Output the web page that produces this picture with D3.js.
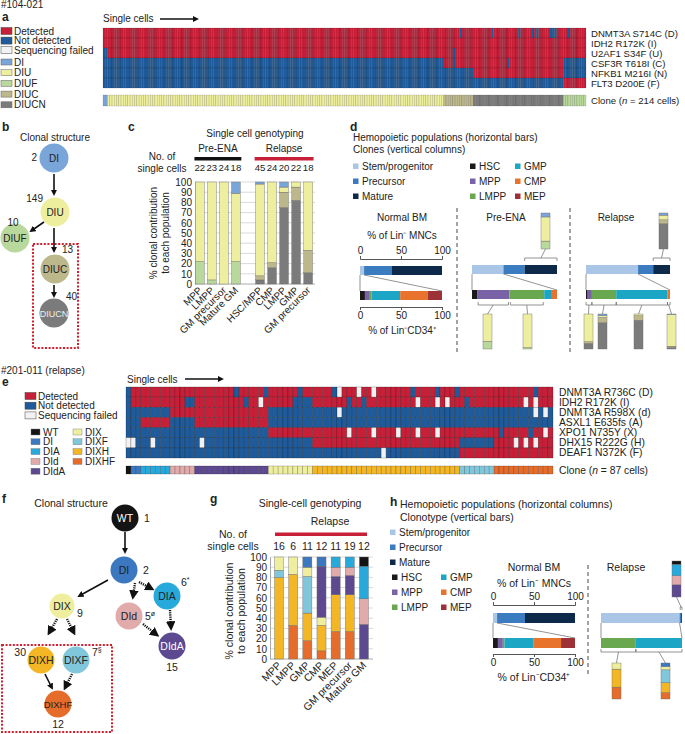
<!DOCTYPE html>
<html>
<head>
<meta charset="utf-8">
<script src="https://cdnjs.cloudflare.com/ajax/libs/d3/7.8.5/d3.min.js"></script>
<style>
  body { margin: 0; background: #fff; }
  text { font-family: 'Liberation Sans', Arial, Helvetica, sans-serif; font-size: 10px; fill: #222; }
</style>
</head>
<body>
<div id="chart"></div>
<script>
(function() {

  // ---------- panel a : patient #104-021 ----------
  var aGenes = ['DNMT3A S714C (D)', 'IDH2 R172K (I)', 'U2AF1 S34F (U)', 'CSF3R T618I (C)', 'NFKB1 M216I (N)', 'FLT3 D200E (F)'];
  var aLetters = ['D', 'I', 'U', 'C', 'N', 'F'];
  var aOrder = ['DI', 'DIU', 'DIUC', 'DIUCN', 'DIUF'];
  var aOrderCells = [2, 149, 13, 40, 10];
  // [cell, gene] not detected although the clone carries the mutation
  var aMissed = [[158, 0], [172, 0], [184, 0], [190, 0], [192, 0], [198, 0], [199, 0], [200, 0], [206, 0], [155, 2], [155, 3], [179, 3]];

  // ---------- panel b ----------
  var bClones = ['DI', 'DIU', 'DIUF', 'DIUC', 'DIUCN'];
  var bCells = [2, 149, 10, 13, 40];

  // ---------- panel c ----------
  var cLabels = ['MPP', 'LMPP', 'GM precursor', 'Mature GM', 'HSC/MPP', 'CMP', 'LMPP', 'GMP', 'GM precursor'];
  var cCells = [22, 23, 24, 18, 45, 24, 20, 22, 18];
  var cStackClones = ['DIUCN', 'DIUC', 'DIUF', 'DIU', 'DI'];
  var cDIUCN = [0, 0, 0, 0, 4, 16, 75, 82, 11];
  var cDIUC = [0, 0, 0, 0, 4, 5, 15, 13, 22];
  var cDIUF = [22, 4, 0, 22, 0, 0, 0, 0, 0];
  var cDIU = [78, 96, 100, 67, 90, 79, 5, 5, 67];
  var cDI = [0, 0, 0, 11, 2, 0, 5, 0, 0];

  // ---------- panels d and h : hemopoietic populations ----------
  var hemoCats = ['Stem/progenitor', 'Precursor', 'Mature'];
  var cd34Cats = ['HSC', 'MPP', 'LMPP', 'GMP', 'CMP', 'MEP'];
  var normalTop = [5, 34, 61];
  var normalBottom = [6, 6, 2, 35, 34, 17];
  var preTop = [37, 25, 38];
  var preBottom = [6, 38, 41, 9, 6, 0];
  var relTop = [62, 18, 20];
  var relBottom = [2, 5, 29, 61, 3, 0];
  var relMatureCol = [70, 11, 0, 13, 6];  // DIUCN, DIUC, DIUF, DIU, DI
  var hRelTop = [97, 2, 1];
  var hRelBottom = [0, 0, 43, 57, 0, 0];

  // ---------- panel e : patient #201-011 ----------
  var eGenes = ['DNMT3A R736C (D)', 'IDH2 R172K (I)', 'DNMT3A R598X (d)', 'ASXL1 E635fs (A)', 'XPO1 N735Y (X)', 'DHX15 R222G (H)', 'DEAF1 N372K (F)'];
  var eLetters = ['D', 'I', 'd', 'A', 'X', 'H', 'F'];
  var eOrder = ['WT', 'DI', 'DIA', 'DId', 'DIdA', 'DIX', 'DIXH', 'DIXF', 'DIXHF'];
  var eOrderCells = [1, 2, 6, 5, 15, 9, 30, 7, 12];
  var eMissed = [[22, 0], [28, 0], [35, 0], [42, 0], [58, 0], [63, 0], [67, 0], [83, 0],
                 [12, 1], [13, 1], [24, 1], [34, 1], [35, 1], [36, 1], [37, 1], [45, 1], [48, 1], [69, 1],
                 [76, 4], [82, 4]];
  var eFailed = [[0, 5], [1, 5], [5, 5], [15, 5], [27, 1], [43, 0], [47, 0], [50, 0],
                 [59, 1], [63, 1], [65, 1], [81, 1], [83, 1], [43, 2], [83, 2], [85, 2],
                 [45, 4], [50, 4], [55, 4], [59, 4], [63, 4], [85, 4], [79, 5], [81, 5], [83, 5], [52, 6]];
  var eLegendLeft = ['WT', 'DI', 'DIA', 'DId', 'DIdA'];
  var eLegendRight = ['DIX', 'DIXF', 'DIXH', 'DIXHF'];

  // ---------- panel g ----------
  var gLabels = ['MPP', 'LMPP', 'GMP', 'CMP', 'MEP', 'GM precursor', 'Mature GM'];
  var gCells = [16, 6, 11, 12, 11, 19, 12];
  var gStackClones = ['DIXHF', 'DIXH', 'DIXF', 'DIX', 'DIdA', 'DId', 'DIA', 'DI', 'WT'];
  var gDIXHF = [0, 33, 18, 8, 27, 27, 0];
  var gDIXH = [80, 50, 27, 25, 36, 36, 0];
  var gDIXF = [7, 0, 36, 0, 0, 0, 0];
  var gDIX = [13, 17, 9, 8, 0, 0, 0];
  var gDIdA = [0, 0, 0, 50, 18, 19, 34];
  var gDId = [0, 0, 0, 0, 9, 8, 25];
  var gDIA = [0, 0, 0, 0, 10, 10, 32];
  var gDI = [0, 0, 10, 9, 0, 0, 0];
  var gWT = [0, 0, 0, 0, 0, 0, 9];

  // ---------- colours ----------
  var detCol = { yes: '#c81f39', no: '#1f5b9b', fail: '#f2f2f2' };
  var aCol = { DI: '#79a5d8', DIU: '#eeee9f', DIUF: '#b8d89c', DIUC: '#bdb78c', DIUCN: '#7b7b7b' };
  var eCol = { WT: '#141414', DI: '#3b78bf', DIA: '#27a9dc', DId: '#e2abab', DIdA: '#5c4990',
               DIX: '#eeee9e', DIXF: '#80c7db', DIXH: '#f3b624', DIXHF: '#e56c2a' };
  var hemoCol = ['#a9c6e6', '#3b7cc0', '#0e2a4b'];
  var cd34Col = ['#1a1a1a', '#7a62a6', '#6aa84f', '#1aa6c4', '#e8732c', '#9e3038'];

  init();

  function init() {
    var svg = d3.select('#chart').append('svg').attr('width', 685).attr('height', 734);
    svg.append('rect').attr('width', 685).attr('height', 734).attr('fill', '#fff');

    var defs = svg.append('defs');
    defs.append('marker').attr('id', 'arr').attr('viewBox', '0 0 10 10')
      .attr('refX', 7).attr('refY', 5).attr('markerWidth', 4).attr('markerHeight', 4)
      .attr('orient', 'auto')
      .append('path').attr('d', 'M0,0L10,5L0,10z').attr('fill', '#111');

    panelA(svg);
    panelB(svg);
    var cInfo = panelC(svg);
    panelD(svg, cInfo);
    panelE(svg);
    panelF(svg);
    var gInfo = panelG(svg);
    panelH(svg, gInfo);
  }

  // ---------- helpers ----------
  function label(g, x, y, s, o) {
    o = o || {};
    var t = g.append('text').attr('x', x).attr('y', y).text(s);
    if (o.anchor) t.attr('text-anchor', o.anchor);
    if (o.size) t.style('font-size', o.size + 'px');
    if (o.weight) t.style('font-weight', o.weight);
    if (o.fill) t.style('fill', o.fill);
    return t;
  }

  function arrowLine(g, x1, y1, x2, y2, dashed) {
    g.append('line').attr('x1', x1).attr('y1', y1).attr('x2', x2).attr('y2', y2)
      .attr('stroke', '#111').attr('stroke-width', dashed ? 2.4 : 1.6)
      .attr('stroke-dasharray', dashed ? '1.2,1' : null)
      .attr('marker-end', 'url(#arr)');
  }

  function node(g, x, y, r, name, fill, tcol, size) {
    g.append('circle').attr('cx', x).attr('cy', y).attr('r', r).attr('fill', fill);
    label(g, x, y + 3.5, name, { anchor: 'middle', size: size || 10, fill: tcol || '#222' });
  }

  function dotBox(g, x0, y0, x1, y1) {
    g.append('rect').attr('x', x0).attr('y', y0).attr('width', x1 - x0).attr('height', y1 - y0)
      .attr('fill', 'none').attr('stroke', '#d3202f').attr('stroke-width', 2).attr('stroke-dasharray', '2,1.6');
  }

  function heatmap(g, genes, letters, order, counts, colors, missed, failed, x0, x1, y0, y1, cb0, cb1, sw) {
    var n = d3.sum(counts);
    var x = d3.scaleLinear().domain([0, n]).range([x0, x1]);
    var y = d3.scaleBand().domain(genes).range([y0, y1]);
    var cloneOf = [];
    order.forEach(function(c, i) { for (var k = 0; k < counts[i]; k++) cloneOf.push(c); });
    var miss = new Set(missed.map(function(d) { return d.join(','); }));
    var fail = new Set(failed.map(function(d) { return d.join(','); }));
    var cells = [];
    cloneOf.forEach(function(c, col) {
      genes.forEach(function(gn, r) {
        var key = col + ',' + r;
        var st = fail.has(key) ? 'fail' : miss.has(key) ? 'no' : (c.indexOf(letters[r]) >= 0 ? 'yes' : 'no');
        cells.push({ col: col, gene: gn, st: st });
      });
    });
    g.append('g').selectAll('rect').data(cells).enter().append('rect')
      .attr('x', function(d) { return x(d.col); })
      .attr('width', x(1) - x(0))
      .attr('y', function(d) { return y(d.gene); })
      .attr('height', y.bandwidth())
      .attr('fill', function(d) { return detCol[d.st]; })
      .attr('stroke', 'rgba(0,0,0,0.35)').attr('stroke-width', sw);
    g.append('g').selectAll('rect').data(cloneOf).enter().append('rect')
      .attr('x', function(d, i) { return x(i); })
      .attr('width', x(1) - x(0))
      .attr('y', cb0).attr('height', cb1 - cb0)
      .attr('fill', function(d) { return colors[d]; })
      .attr('stroke', 'rgba(0,0,0,0.3)').attr('stroke-width', sw);
    return y;
  }

  function stackCol(g, x, w, ys, vals, colors) {
    var acc = 0;
    vals.forEach(function(v, i) {
      if (!v) return;
      g.append('rect').attr('x', x).attr('width', w)
        .attr('y', ys(acc + v)).attr('height', ys(acc) - ys(acc + v))
        .attr('fill', colors[i]).attr('stroke', '#6a6a6a').attr('stroke-width', 0.4);
      acc += v;
    });
  }

  function hbar(g, xs, y, h, vals, colors) {
    var acc = 0;
    vals.forEach(function(v, i) {
      if (!v) return;
      g.append('rect').attr('x', xs(acc)).attr('width', xs(acc + v) - xs(acc))
        .attr('y', y).attr('height', h).attr('fill', colors[i]);
      acc += v;
    });
  }

  function thin(g, x1, y1, x2, y2) {
    g.append('line').attr('x1', x1).attr('y1', y1).attr('x2', x2).attr('y2', y2)
      .attr('stroke', '#666').attr('stroke-width', 0.7);
  }

  // horizontal bar pair with the zoom connectors
  function hemoPair(g, x0, x1, yT, yB, h, top, bot) {
    var xs = d3.scaleLinear().domain([0, 100]).range([x0, x1]);
    hbar(g, xs, yT, h, top, hemoCol);
    hbar(g, xs, yB, h, bot, cd34Col);
    thin(g, x0, yT + h, x0, yB);
    thin(g, xs(top[0]), yT + h, x1, yB);
    return xs;
  }

  function cum(vals, i) { return d3.sum(vals.slice(0, i)); }

  // bracket under/over a span, linked to a clone column
  function bracketLink(g, xa, xb, yb, tick, colX, colY, w) {
    var p = d3.path();
    p.moveTo(xa, yb + tick); p.lineTo(xa, yb); p.lineTo(xb, yb); p.lineTo(xb, yb + tick);
    g.append('path').attr('d', p.toString()).attr('fill', 'none').attr('stroke', '#666').attr('stroke-width', 0.7);
    thin(g, (xa + xb) / 2, yb, colX + w / 2, colY);
  }

  function legendSq(g, x, y, col, name, size) {
    g.append('rect').attr('x', x).attr('y', y - 2.5).attr('width', 5.5).attr('height', 5.5).attr('fill', col);
    label(g, x + 9, y + 3.5, name, { size: size || 10 });
  }

  // ---------- panel a ----------
  function panelA(svg) {
    var g = svg.append('g');
    label(g, 1, 8, '#104-021', { size: 10 });
    label(g, 2, 21, 'a', { size: 12, weight: 'bold' });
    label(g, 103, 22, 'Single cells', { size: 10 });
    arrowLine(g, 160, 19, 197, 19, false);

    var det = [['yes', 'Detected'], ['no', 'Not detected'], ['fail', 'Sequencing failed']];
    det.forEach(function(d, i) {
      var cy = 31 + i * 9.6;
      g.append('rect').attr('x', 1).attr('y', cy - 3.5).attr('width', 11).attr('height', 7)
        .attr('fill', detCol[d[0]]).attr('stroke', '#444').attr('stroke-width', 0.5);
      label(g, 14, cy + 3.5, d[1]);
    });
    bClones.forEach(function(c, i) {
      var cy = 62 + i * 10.7;
      g.append('rect').attr('x', 1).attr('y', cy - 3).attr('width', 11).attr('height', 6)
        .attr('fill', aCol[c]).attr('stroke', '#666').attr('stroke-width', 0.5);
      label(g, 14, cy + 3.5, c);
    });

    var y = heatmap(g, aGenes, aLetters, aOrder, aOrderCells, aCol, aMissed, [], 103, 586, 28, 88, 95, 106, 0.35);
    aGenes.forEach(function(gn) {
      label(g, 591, y(gn) + y.bandwidth() / 2 + 3.5, gn, { size: 9.6 });
    });
    var t = label(g, 591, 104, 'Clone (', { size: 9.6 });
    t.append('tspan').style('font-style', 'italic').text('n');
    t.append('tspan').text(' = ' + d3.sum(aOrderCells) + ' cells)');
  }

  // ---------- panel b ----------
  function panelB(svg) {
    var g = svg.append('g');
    label(g, 2, 131, 'b', { size: 12, weight: 'bold' });
    label(g, 55, 141, 'Clonal structure', { anchor: 'middle' });
    var pos = { DI: [54, 158], DIU: [55, 212], DIUF: [15, 238], DIUC: [55, 269], DIUCN: [54, 313] };
    dotBox(g, 33, 244, 78, 348);
    arrowLine(g, 54, 174, 54, 194);
    arrowLine(g, 44, 222, 31, 231);
    arrowLine(g, 54, 228, 54, 251);
    arrowLine(g, 54, 285, 54, 296);
    bClones.forEach(function(c) {
      var p = pos[c];
      node(g, p[0], p[1], 14.5, c, aCol[c], c === 'DIUCN' ? '#eee' : '#222', c.length > 4 ? 9 : 10);
    });
    var lab = { DI: [37, 161, 'end'], DIU: [43, 202, 'end'], DIUF: [13, 226, 'middle'], DIUC: [62, 253, 'start'], DIUCN: [66, 300, 'start'] };
    bClones.forEach(function(c, i) {
      var l = lab[c];
      label(g, l[0], l[1], bCells[i], { anchor: l[2] });
    });
  }

  // ---------- panel c ----------
  function panelC(svg) {
    var g = svg.append('g');
    label(g, 128, 131, 'c', { size: 12, weight: 'bold' });
    label(g, 255, 137, 'Single cell genotyping', { anchor: 'middle' });

    var x = d3.scaleBand().domain(d3.range(10)).range([194, 314]).paddingInner(0.27).paddingOuter(0.12);
    var y = d3.scaleLinear().domain([0, 100]).range([284, 182]);
    var slot = function(i) { return i < 4 ? i : i + 1; };

    y.ticks(10).forEach(function(t) {
      if (t === 0) return;
      g.append('line').attr('x1', 195).attr('x2', 315).attr('y1', y(t)).attr('y2', y(t))
        .attr('stroke', '#c9c9c9').attr('stroke-width', 0.7);
    });
    g.append('g').attr('transform', 'translate(195,0)')
      .call(d3.axisLeft(y).ticks(10).tickSize(0).tickPadding(3))
      .call(function(a) { a.select('.domain').attr('stroke', '#aaa'); a.selectAll('text').style('font-size', '10px'); });
    g.append('line').attr('x1', 195).attr('x2', 315).attr('y1', 284).attr('y2', 284).attr('stroke', '#aaa');

    var stack = [cDIUCN, cDIUC, cDIUF, cDIU, cDI];
    var cols = cStackClones.map(function(c) { return aCol[c]; });
    cLabels.forEach(function(l, i) {
      var vals = stack.map(function(a) { return a[i]; });
      var bx = x(slot(i));
      stackCol(g, bx, x.bandwidth(), y, vals, cols);
      label(g, bx + x.bandwidth() / 2, 171, cCells[i], { anchor: 'middle', size: 9.6 });
      label(g, bx + x.bandwidth() / 2 + 3, 291, l, { anchor: 'end', size: 10 })
        .attr('transform', 'rotate(-45,' + (bx + x.bandwidth() / 2 + 3) + ',291)');
    });

    var t = g.append('text').attr('transform', 'translate(157,233) rotate(-90)').attr('text-anchor', 'middle');
    t.append('tspan').attr('x', 0).attr('y', 0).text('% clonal contribution');
    t.append('tspan').attr('x', 0).attr('y', 12).text('to each population');

    label(g, 162, 160, 'No. of', { anchor: 'middle' });
    label(g, 162, 172, 'single cells', { anchor: 'middle' });
    var preX0 = x(0) - 1, preX1 = x(3) + x.bandwidth() + 1;
    var relX0 = x(5) - 1, relX1 = x(9) + x.bandwidth() + 1;
    g.append('rect').attr('x', preX0).attr('y', 157).attr('width', preX1 - preX0).attr('height', 3.5).attr('fill', '#111');
    g.append('rect').attr('x', relX0).attr('y', 157).attr('width', relX1 - relX0).attr('height', 3.5).attr('fill', '#c81f39');
    label(g, (preX0 + preX1) / 2, 152, 'Pre-ENA', { anchor: 'middle' });
    label(g, (relX0 + relX1) / 2, 152, 'Relapse', { anchor: 'middle' });
    return { stack: stack, cols: cols };
  }

  function hemoLegend(g, x0, y0, x1, x2, y1, dy) {
    hemoCats.forEach(function(c, i) { legendSq(g, x0, y0 + i * dy, hemoCol[i], c); });
    cd34Cats.forEach(function(c, i) {
      legendSq(g, i < 3 ? x1 : x2, y1 + (i % 3) * dy, cd34Col[i], c);
    });
  }

  function normalBM(g, x0, x1, yAxT, yT, yB, yAxB, h) {
    var xs = hemoPair(g, x0, x1, yT, yB, h, normalTop, normalBottom);
    g.append('g').attr('transform', 'translate(0,' + yAxT + ')')
      .call(d3.axisTop(xs).tickValues([0, 50, 100]).tickSize(3).tickSizeOuter(3).tickPadding(2))
      .call(function(a) { a.selectAll('path,line').attr('stroke', '#555'); });
    g.append('g').attr('transform', 'translate(0,' + yAxB + ')')
      .call(d3.axisBottom(xs).tickValues([0, 50, 100]).tickSize(3).tickSizeOuter(3).tickPadding(2))
      .call(function(a) { a.selectAll('path,line').attr('stroke', '#555'); });
    return xs;
  }

  // ---------- panel d ----------
  function panelD(svg, cInfo) {
    var g = svg.append('g');
    label(g, 350, 131, 'd', { size: 12, weight: 'bold' });
    label(g, 353, 141, 'Hemopoietic populations (horizontal bars)');
    label(g, 353, 153, 'Clones (vertical columns)');
    hemoLegend(g, 353, 166, 470, 515, 166, 15);

    // normal BM
    label(g, 402, 221, 'Normal BM', { anchor: 'middle' });
    label(g, 402, 239, '% of Lin\u207B MNCs', { anchor: 'middle' });
    normalBM(g, 360, 442, 259, 266, 291, 307, 9);
    label(g, 402, 334, '% of Lin\u207BCD34\u207A', { anchor: 'middle' });

    [457, 570].forEach(function(xd) {
      g.append('line').attr('x1', xd).attr('x2', xd).attr('y1', 208).attr('y2', 354)
        .attr('stroke', '#333').attr('stroke-width', 0.9).attr('stroke-dasharray', '4,3');
    });

    var w = 9;
    // pre-ENA
    label(g, 506, 221, 'Pre-ENA', { anchor: 'middle' });
    var xp = hemoPair(g, 472, 557, 265, 290, 9, preTop, preBottom);
    var colAt = function(bar) { return cInfo.stack.map(function(a) { return a[bar]; }); };
    var yUp = d3.scaleLinear().domain([0, 100]).range([249, 213]);
    var yDn = d3.scaleLinear().domain([0, 100]).range([349, 314]);
    stackCol(g, 541, w, yUp, colAt(3), cInfo.cols);
    bracketLink(g, xp(cum(preTop, 2)), xp(100), 258, 3, 541, 249, w);
    stackCol(g, 483, w, yDn, colAt(0), cInfo.cols);
    bracketLink(g, xp(cum(preBottom, 1)) + 1, xp(cum(preBottom, 2)) - 1, 305, -3, 483, 314, w);
    stackCol(g, 523, w, yDn, colAt(1), cInfo.cols);
    bracketLink(g, xp(cum(preBottom, 2)) + 1, xp(cum(preBottom, 3)) - 1, 305, -3, 523, 314, w);

    // relapse
    label(g, 616, 221, 'Relapse', { anchor: 'middle' });
    var xr = hemoPair(g, 586, 670, 265, 290, 9, relTop, relBottom);
    stackCol(g, 659, w, yUp, relMatureCol, cInfo.cols);
    bracketLink(g, xr(cum(relTop, 2)), xr(100), 258, 3, 659, 249, w);
    var links = [[0, 2, 5, 584], [2, 3, 6, 598], [3, 4, 7, 634], [4, 5, 4, 667]];
    links.forEach(function(l) {
      stackCol(g, l[3], w, yDn, colAt(l[2]), cInfo.cols);
      bracketLink(g, xr(cum(relBottom, l[0])), xr(cum(relBottom, l[1])), 305, -3, l[3], 314, w);
    });
  }

  // ---------- panel e ----------
  function panelE(svg) {
    var g = svg.append('g');
    label(g, 1, 374, '#201-011 (relapse)');
    label(g, 2, 386, 'e', { size: 12, weight: 'bold' });
    label(g, 127, 383, 'Single cells');
    arrowLine(g, 185, 379, 222, 379);

    var det = [['yes', 'Detected'], ['no', 'Not detected'], ['fail', 'Sequencing failed']];
    det.forEach(function(d, i) {
      var cy = 396 + i * 9.7;
      g.append('rect').attr('x', 25).attr('y', cy - 3.5).attr('width', 11).attr('height', 7)
        .attr('fill', detCol[d[0]]).attr('stroke', '#444').attr('stroke-width', 0.5);
      label(g, 38, cy + 3.5, d[1]);
    });
    eLegendLeft.forEach(function(c, i) {
      var cy = 432 + i * 9.8;
      g.append('rect').attr('x', 31).attr('y', cy - 3).attr('width', 9).attr('height', 6).attr('fill', eCol[c])
        .attr('stroke', '#777').attr('stroke-width', 0.4);
      label(g, 43, cy + 3.5, c);
    });
    eLegendRight.forEach(function(c, i) {
      var cy = 432 + i * 9.8;
      g.append('rect').attr('x', 73).attr('y', cy - 3).attr('width', 9).attr('height', 6).attr('fill', eCol[c])
        .attr('stroke', '#777').attr('stroke-width', 0.4);
      label(g, 85, cy + 3.5, c);
    });

    var y = heatmap(g, eGenes, eLetters, eOrder, eOrderCells, eCol, eMissed, eFailed, 126, 553, 387, 458, 466, 474, 0.6);
    eGenes.forEach(function(gn) {
      label(g, 559, y(gn) + y.bandwidth() / 2 + 3.5, gn, { size: 10.3 });
    });
    var t = label(g, 559, 474, 'Clone (', { size: 10.3 });
    t.append('tspan').style('font-style', 'italic').text('n');
    t.append('tspan').text(' = ' + d3.sum(eOrderCells) + ' cells)');
  }

  // ---------- panel f ----------
  function panelF(svg) {
    var g = svg.append('g');
    label(g, 2, 503, 'f', { size: 12, weight: 'bold' });
    label(g, 71, 507, 'Clonal structure', { anchor: 'middle', size: 10.5 });
    var pos = { WT: [125, 518], DI: [124, 570], DIX: [62, 606], DIA: [167, 596], DId: [129, 616],
                DIdA: [172, 646], DIXH: [41, 660], DIXF: [76, 660], DIXHF: [58, 704] };
    dotBox(g, 2, 645, 112, 732);
    arrowLine(g, 125, 532, 125, 552);
    arrowLine(g, 108, 580, 79, 596);
    arrowLine(g, 135, 583, 133, 597, true);
    arrowLine(g, 139, 582, 152, 589, true);
    arrowLine(g, 170, 610, 171, 628, true);
    arrowLine(g, 143, 624, 157, 635, true);
    arrowLine(g, 57, 619, 49, 633, true);
    arrowLine(g, 67, 619, 74, 633, true);
    arrowLine(g, 45, 674, 52, 688);
    arrowLine(g, 72, 674, 65, 688, true);
    eOrder.forEach(function(c) {
      var p = pos[c];
      var dark = c === 'WT' || c === 'DIdA';
      node(g, p[0], p[1], c === 'DIX' ? 12.5 : 13.5, c, eCol[c], dark ? '#fff' : '#222', c.length > 4 ? 9.5 : 10.5);
    });
    var lab = { WT: [144, 522, 'start'], DI: [143, 574, 'start'], DIX: [77, 617, 'start'], DIA: [181, 586, 'start', '*'],
                DId: [145, 620, 'start', '\u00F8'], DIdA: [172, 671, 'middle'], DIXH: [26, 656, 'end'],
                DIXF: [92, 656, 'start', '\u00A7'], DIXHF: [58, 728, 'middle'] };
    eOrder.forEach(function(c, i) {
      var l = lab[c];
      var t = label(g, l[0], l[1], eOrderCells[i], { anchor: l[2], size: 10.5 });
      if (l[3]) t.append('tspan').attr('dy', -4).style('font-size', '7px').text(l[3]);
    });
  }

  // ---------- panel g ----------
  function panelG(svg) {
    var g = svg.append('g');
    label(g, 210, 503, 'g', { size: 12, weight: 'bold' });
    label(g, 310, 507, 'Single-cell genotyping', { anchor: 'middle', size: 10.5 });
    label(g, 330, 525, 'Relapse', { anchor: 'middle', size: 10.5 });
    g.append('rect').attr('x', 275).attr('y', 532.5).attr('width', 92).attr('height', 3.5).attr('fill', '#c81f39');
    label(g, 233, 538, 'No. of', { anchor: 'middle', size: 10.5 });
    label(g, 233, 550, 'single cells', { anchor: 'middle', size: 10.5 });

    var x = d3.scaleBand().domain(d3.range(7)).range([272, 371]).paddingInner(0.36).paddingOuter(0.18);
    var y = d3.scaleLinear().domain([0, 100]).range([659, 557]);
    y.ticks(10).forEach(function(t) {
      if (t === 0) return;
      g.append('line').attr('x1', 270).attr('x2', 373).attr('y1', y(t)).attr('y2', y(t))
        .attr('stroke', '#c9c9c9').attr('stroke-width', 0.7);
    });
    g.append('g').attr('transform', 'translate(270,0)')
      .call(d3.axisLeft(y).ticks(10).tickSize(0).tickPadding(3))
      .call(function(a) { a.select('.domain').attr('stroke', '#aaa'); a.selectAll('text').style('font-size', '10px'); });
    g.append('line').attr('x1', 270).attr('x2', 373).attr('y1', 659).attr('y2', 659).attr('stroke', '#aaa');

    var stack = [gDIXHF, gDIXH, gDIXF, gDIX, gDIdA, gDId, gDIA, gDI, gWT];
    var cols = gStackClones.map(function(c) { return eCol[c]; });
    gLabels.forEach(function(l, i) {
      var bx = x(i);
      stackCol(g, bx, x.bandwidth(), y, stack.map(function(a) { return a[i]; }), cols);
      label(g, bx + x.bandwidth() / 2, 550, gCells[i], { anchor: 'middle', size: 10.5 });
      label(g, bx + x.bandwidth() / 2 + 3, 666, l, { anchor: 'end', size: 10.5 })
        .attr('transform', 'rotate(-45,' + (bx + x.bandwidth() / 2 + 3) + ',666)');
    });
    var t = g.append('text').attr('transform', 'translate(233,611) rotate(-90)').attr('text-anchor', 'middle').style('font-size', '10.5px');
    t.append('tspan').attr('x', 0).attr('y', 0).text('% clonal contribution');
    t.append('tspan').attr('x', 0).attr('y', 12).text('to each population');
    return { stack: stack, cols: cols };
  }

  // ---------- panel h ----------
  function panelH(svg, gInfo) {
    var g = svg.append('g');
    label(g, 390, 506, 'h', { size: 12, weight: 'bold' });
    label(g, 400, 508, 'Hemopoietic populations (horizontal columns)', { size: 10.5 });
    label(g, 400, 521, 'Clonotype (vertical bars)', { size: 10.5 });
    hemoLegend(g, 390, 532, 392, 441, 577, 15);

    label(g, 534, 571, 'Normal BM', { anchor: 'middle', size: 10.5 });
    label(g, 534, 587, '% of Lin\u207B MNCs', { anchor: 'middle', size: 10.5 });
    normalBM(g, 493, 575, 605, 613, 638, 654, 10);
    label(g, 534, 681, '% of Lin\u207BCD34\u207A', { anchor: 'middle', size: 10.5 });

    g.append('line').attr('x1', 588).attr('x2', 588).attr('y1', 565).attr('y2', 677)
      .attr('stroke', '#333').attr('stroke-width', 0.9).attr('stroke-dasharray', '4,3');

    label(g, 626, 571, 'Relapse', { anchor: 'middle', size: 10.5 });
    var xr = hemoPair(g, 601, 682, 613, 638, 10, hRelTop, hRelBottom);
    var w = 9;
    var colAt = function(bar) { return gInfo.stack.map(function(a) { return a[bar]; }); };
    var yUp = d3.scaleLinear().domain([0, 100]).range([597, 561]);
    var yDn = d3.scaleLinear().domain([0, 100]).range([699, 663]);
    stackCol(g, 672, w, yUp, colAt(6), gInfo.cols);
    bracketLink(g, xr(cum(hRelTop, 2)) - 1, xr(100), 607, 3, 672, 597, w);
    stackCol(g, 612, w, yDn, colAt(1), gInfo.cols);
    bracketLink(g, xr(cum(hRelBottom, 2)), xr(cum(hRelBottom, 3)), 652, -3, 612, 663, w);
    stackCol(g, 661, w, yDn, colAt(2), gInfo.cols);
    bracketLink(g, xr(cum(hRelBottom, 3)), xr(cum(hRelBottom, 4)), 652, -3, 661, 663, w);
  }

})();
</script>
</body>
</html>
